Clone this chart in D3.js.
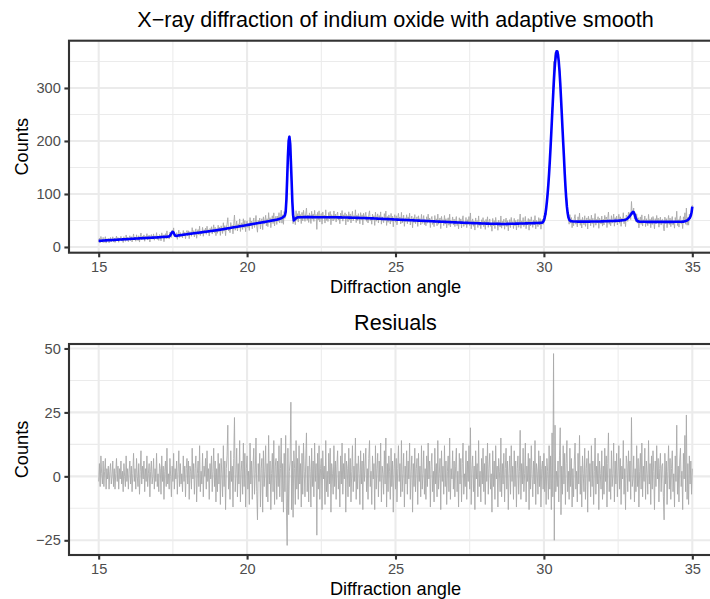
<!DOCTYPE html>
<html><head><meta charset="utf-8">
<script src="https://cdn.jsdelivr.net/npm/d3@7"></script>
<style>
body{margin:0;background:#fff}
svg{display:block}
text{font-family:"Liberation Sans",Arial,Helvetica,sans-serif}
</style>
</head><body>
<svg id="chart" width="710" height="599"></svg>
<script>
// ---------- data ----------
const angleStart = 15, angleStep = 0.025;   // diffraction angle grid 15 .. 35

// adaptive smooth (fitted counts), one row per degree
const fitted = [
/*15*/ 11.5,11.6,11.7,11.8,11.9,12.0,12.1,12.2,12.3,12.4, 12.4,12.5,12.6,12.7,12.8,12.9,13.0,13.0,13.1,13.2, 13.3,13.4,13.5,13.5,13.6,13.7,13.8,13.9,14.0,14.0, 14.1,14.2,14.3,14.4,14.5,14.5,14.6,14.7,14.8,14.9,
/*16*/ 15.0,15.1,15.2,15.3,15.4,15.5,15.5,15.6,15.7,15.8, 15.9,16.0,16.0,16.1,16.2,16.3,16.4,16.4,16.5,16.6, 16.7,16.8,16.8,16.9,17.0,17.1,17.1,17.2,17.3,17.4, 17.4,17.5,17.6,17.7,17.7,17.8,17.9,18.0,18.0,18.1,
/*17*/ 18.2,18.3,18.4,18.5,18.6,18.7,18.8,18.9,19.0,19.1, 19.2,19.3,19.4,19.5,19.7,20.0,21.0,23.0,26.0,28.0, 28.5,27.0,24.0,21.5,20.8,21.0,21.3,21.6,21.9,22.1, 22.3,22.5,22.7,22.9,23.1,23.3,23.5,23.7,23.9,24.1,
/*18*/ 24.3,24.5,24.7,24.9,25.0,25.2,25.4,25.6,25.8,25.9, 26.1,26.3,26.5,26.7,26.9,27.0,27.2,27.4,27.6,27.8, 28.0,28.2,28.3,28.5,28.7,28.9,29.1,29.3,29.5,29.7, 29.8,30.0,30.2,30.4,30.6,30.8,31.0,31.2,31.4,31.6,
/*19*/ 31.8,32.0,32.3,32.5,32.8,33.0,33.2,33.5,33.7,34.0, 34.2,34.4,34.7,34.9,35.2,35.4,35.6,35.9,36.1,36.4, 36.6,36.8,37.1,37.3,37.6,37.8,38.0,38.3,38.5,38.8, 39.0,39.2,39.5,39.7,40.0,40.2,40.4,40.7,40.9,41.2,
/*20*/ 41.4,41.7,41.9,42.2,42.4,42.7,42.9,43.2,43.4,43.7, 43.9,44.2,44.4,44.7,44.9,45.2,45.4,45.7,45.9,46.2, 46.4,46.7,46.9,47.2,47.4,47.7,47.9,48.2,48.4,48.7, 48.9,49.2,49.4,49.7,49.9,50.2,50.4,50.7,50.9,51.2,
/*21*/ 51.5,51.9,52.3,52.7,53.2,53.7,54.3,55.0,55.8,56.8, 58,60,66,90,128,170,200,208,196,162, 125,85,60,50,51.5,53,54.5,55.3,55.8,56, 56,56.1,56.1,56.2,56.2,56.2,56.3,56.3,56.3,56.3,
/*22*/ 56.3,56.3,56.3,56.3,56.3,56.3,56.3,56.3,56.3,56.3, 56.2,56.2,56.2,56.2,56.2,56.2,56.2,56.2,56.2,56.2, 56.1,56.1,56.1,56.1,56.1,56.1,56.1,56.1,56.1,56.1, 56.0,56.0,56.0,56.0,56.0,56.0,56.0,56.0,56.0,56.0,
/*23*/ 56.0,56.0,55.9,55.9,55.9,55.8,55.8,55.8,55.7,55.7, 55.7,55.6,55.6,55.6,55.5,55.5,55.5,55.4,55.4,55.4, 55.3,55.3,55.2,55.2,55.2,55.1,55.1,55.0,55.0,55.0, 54.9,54.9,54.8,54.8,54.8,54.7,54.7,54.6,54.6,54.5,
/*24*/ 54.4,54.4,54.3,54.3,54.2,54.2,54.1,54.0,54.0,53.9, 53.9,53.8,53.7,53.7,53.6,53.5,53.5,53.4,53.3,53.3, 53.2,53.1,53.1,53.0,52.9,52.9,52.8,52.7,52.7,52.6, 52.5,52.5,52.4,52.3,52.3,52.2,52.1,52.1,52.0,51.9,
/*25*/ 51.8,51.8,51.7,51.6,51.6,51.5,51.4,51.4,51.3,51.2, 51.2,51.1,51.0,51.0,50.9,50.8,50.8,50.7,50.6,50.6, 50.5,50.4,50.4,50.3,50.2,50.2,50.1,50.0,50.0,49.9, 49.8,49.8,49.7,49.6,49.6,49.5,49.4,49.4,49.3,49.2,
/*26*/ 49.1,49.1,49.0,48.9,48.9,48.8,48.7,48.7,48.6,48.5, 48.5,48.4,48.3,48.3,48.2,48.1,48.1,48.0,47.9,47.9, 47.8,47.7,47.7,47.6,47.5,47.5,47.4,47.3,47.3,47.2, 47.1,47.1,47.0,46.9,46.9,46.8,46.7,46.7,46.6,46.5,
/*27*/ 46.5,46.4,46.4,46.3,46.2,46.2,46.1,46.1,46.0,45.9, 45.9,45.8,45.8,45.7,45.6,45.6,45.5,45.5,45.4,45.3, 45.3,45.2,45.2,45.1,45.0,45.0,44.9,44.9,44.8,44.8, 44.7,44.7,44.6,44.6,44.5,44.5,44.4,44.4,44.3,44.3,
/*28*/ 44.2,44.2,44.1,44.1,44.0,44.0,44.0,43.9,43.9,43.9, 43.8,43.8,43.8,43.7,43.7,43.7,43.7,43.6,43.6,43.6, 43.6,43.6,43.5,43.5,43.5,43.5,43.5,43.5,43.5,43.5, 43.6,43.6,43.6,43.6,43.7,43.7,43.7,43.8,43.8,43.8,
/*29*/ 43.9,43.9,44.0,44.0,44.0,44.1,44.1,44.2,44.2,44.2, 44.3,44.3,44.4,44.4,44.4,44.5,44.5,44.6,44.6,44.7, 44.7,44.8,44.8,44.9,44.9,45.0,45.0,45.1,45.1,45.2, 45.2,45.3,45.3,45.4,45.4,45.5,45.6,45.8,46.3,47.5,
/*30*/ 50,55,62,72,85,100,118,139,163,189, 217,246,274,302,327,347,361,369,369,363, 350,332,309,282,254,225,197,170,140,115, 93,76,64,56,52,50,49,48.6,48.4,48.2,
/*31*/ 48.1,48.0,48.0,48.0,48.0,47.9,47.9,47.9,47.9,47.9, 47.9,47.9,47.9,47.9,47.9,47.9,47.9,47.9,47.9,47.9, 47.9,47.9,47.9,48.0,48.0,48.0,48.0,48.0,48.0,48.0, 48.1,48.1,48.1,48.1,48.2,48.2,48.2,48.3,48.3,48.4,
/*32*/ 48.4,48.5,48.5,48.6,48.6,48.7,48.7,48.8,48.8,48.9, 48.9,49.0,49.0,49.1,49.1,49.2,49.3,49.3,49.4,49.5, 49.6,49.7,49.8,49.9,50.0,50.2,50.4,50.6,50.8,51.1, 51.5,52.3,53.2,54.3,55.6,57.1,58.8,60.7,62.8,64.9,
/*33*/ 66.2,65.5,62.5,58.0,53.5,50.5,49.0,48.3,48.0,47.8, 47.7,47.6,47.6,47.5,47.5,47.5,47.5,47.5,47.4,47.4, 47.4,47.4,47.4,47.4,47.4,47.4,47.4,47.4,47.4,47.4, 47.4,47.4,47.4,47.4,47.4,47.4,47.4,47.4,47.4,47.4,
/*34*/ 47.4,47.4,47.4,47.4,47.4,47.4,47.4,47.4,47.4,47.4, 47.4,47.4,47.4,47.4,47.4,47.4,47.5,47.5,47.5,47.5, 47.5,47.5,47.5,47.5,47.6,47.6,47.7,47.8,47.9,48.1, 48.5,48.9,49.4,50.1,51.0,52.2,53.8,56.0,59.5,65.5,
/*35*/ 76
];

// residuals (observed counts minus smooth), one row per degree
const residuals = [
/*15*/ -2,5,-4,8,1,-3,6,-4,2,7, -5,3,-1,4,-5,2,5,-3,0,6, -4,3,-5,1,7,-2,4,-5,3,-1, 6,-3,2,-6,5,0,-4,8,-2,3,
/*16*/ -5,2,6,-3,4,-6,1,9,-2,3, -5,7,0,-4,5,-7,2,10,-3,4, -1,6,-6,3,-2,8,-4,1,5,-8, 2,6,-3,0,7,-5,3,-2,9,-4,
/*17*/ 1,-6,5,3,-7,8,-2,4,-9,2, 6,-4,11,-3,1,-5,7,0,-8,4, -2,9,-5,3,-1,6,-7,2,10,-4, 5,-3,1,-6,8,-2,4,-8,3,7,
/*18*/ -3,6,-9,4,2,-5,11,-1,5,-7, 3,8,-10,1,6,-4,12,-6,2,-3, 9,-8,4,0,7,-5,10,-2,3,-9, 5,-1,8,-6,2,11,-4,6,-10,3,
/*19*/ -6,9,-3,5,-11,7,1,-8,12,-4, 6,-13,3,8,20,-5,2,-9,10,-2, 4,-12,7,23,-6,1,11,-8,5,-3, 14,-10,2,6,-7,13,-4,9,-12,3,
/*20*/ 8,-5,2,-11,13,-3,6,-9,4,11, -7,1,15,-6,-17,5,-2,9,-12,3, 7,-14,10,-4,2,12,-8,5,-10,16, -3,6,-13,1,9,-6,14,-11,4,7,
/*21*/ -9,6,-4,12,-8,3,15,-10,5,-14, 9,-6,16,-12,-27,11,-15,2,6,29, -13,6,-16,10,3,-11,14,-5,7,-9, 12,-3,5,-12,9,-7,13,2,-8,6,
/*22*/ 17,-6,4,-10,8,2,-12,11,-4,6, -8,13,-2,5,-23,9,-5,12,-9,3, 7,-13,10,-1,4,-11,14,-6,2,-8, 9,-3,11,-14,5,1,-7,12,-4,6,
/*23*/ -9,4,10,-5,2,-12,8,-3,13,-7, 5,-1,9,-14,6,3,-8,11,-4,7, -10,2,12,-6,4,-2,15,-9,5,-5, 8,1,-11,10,-3,6,-13,9,-2,4,
/*24*/ 11,-6,3,-9,7,14,-4,2,-11,8, -1,5,-13,12,-5,3,9,-8,6,-2, 13,-10,4,1,-7,10,-3,15,-12,5, -6,8,2,-9,11,-4,6,-14,3,9,
/*25*/ -5,7,-10,3,12,-2,5,-8,14,-6, 1,9,-12,4,-3,10,-7,6,-1,13, -9,2,8,-14,5,-4,11,-6,3,7, -11,9,-2,4,-8,12,-5,1,10,-7,
/*26*/ 3,-9,8,-4,13,-1,6,-12,4,9, -6,2,-10,11,-3,5,-8,14,-5,1, 7,-13,10,-2,4,-7,12,-4,6,-11, 2,8,-6,15,-9,3,-1,10,-5,6,
/*27*/ -8,4,11,-6,2,-12,9,-3,7,-10, 5,13,-7,1,-4,10,-9,6,-2,12, -5,19,-11,3,8,-6,4,-13,10,-1, 5,-8,14,-4,2,-10,7,-3,11,-6,
/*28*/ 5,-11,8,-2,13,-7,3,9,-5,1, -14,10,-4,6,-9,12,-1,4,-12,7, 2,-6,15,-8,5,-3,9,-10,3,11, -5,6,-13,1,8,-7,12,-2,4,-9,
/*29*/ 10,-4,6,-12,3,8,-7,2,18,-9, 5,-3,11,-6,1,13,-10,4,-2,9, -13,7,-5,12,0,-8,6,-3,14,-11, 5,2,-7,10,-4,8,-12,3,6,-5,
/*30*/ 9,-6,4,-11,7,2,-9,12,-5,8, -13,17,-8,48,-25,20,-6,2,-4,6, -10,8,19,-15,4,-7,12,-3,9,-11, 5,14,-6,2,-9,11,-4,7,-12,3,
/*31*/ -8,6,13,-5,2,-10,9,-3,16,-7, 4,-12,8,1,-6,11,-9,3,7,-14, 10,-2,5,-8,12,-4,6,-11,2,15, -7,4,-3,9,-13,6,1,-5,10,-9,
/*32*/ 4,-7,11,-2,8,-12,5,17,-6,3, -9,10,-4,1,13,-10,6,-3,9,-8, 2,12,-5,7,-11,4,-1,14,-7,3, -13,8,5,-6,10,-2,6,-9,23,-4,
/*33*/ -1,8,-10,3,-6,12,-4,7,-12,2, 9,-5,13,-8,4,-2,11,-9,6,1, -7,14,-3,5,-11,8,-5,10,2,-13, 6,-4,12,-1,7,-10,3,9,-6,4,
/*34*/ 5,-8,-17,9,-3,6,-11,2,12,-5, 7,-9,3,10,-6,1,-12,8,-2,20, -7,4,-10,6,11,-4,2,-13,9,-1, 16,-6,24,-9,5,-11,8,-3,6,-7,
/*35*/ 3
];

const angleTicks = [15, 20, 25, 30, 35];
const countTicks = [0, 100, 200, 300];
const residTicks = [-25, 0, 25, 50];
const topTitle = "X\u2212ray diffraction of indium oxide with adaptive smooth";
const bottomTitle = "Resiuals";
const xTitle = "Diffraction angle";
const yTitle = "Counts";

// ---------- derived ----------
const angles = fitted.map((_, i) => +(angleStart + i * angleStep).toFixed(3));
const counts = fitted.map((f, i) => f + residuals[i]);

function expand(ext) { const r = ext[1] - ext[0]; return [ext[0] - 0.05 * r, ext[1] + 0.05 * r]; }

const svg = d3.select("#chart");
const panelL = 69, panelR = 722;
const x = d3.scaleLinear().domain(expand(d3.extent(angles))).range([panelL, panelR]);

const topPanel = {top: 40.7, bottom: 252.7};
const botPanel = {top: 344, bottom: 555};

const yTop = d3.scaleLinear()
  .domain(expand(d3.extent(counts.concat(fitted))))
  .range([topPanel.bottom, topPanel.top]);
const yBot = d3.scaleLinear()
  .domain(expand(d3.extent(residuals)))
  .range([botPanel.bottom, botPanel.top]);

function minorOf(ticks, domain) {
  const step = ticks[1] - ticks[0];
  const out = [];
  for (let i = -1; i < ticks.length; i++) {
    const v = ticks[0] + (i + 0.5) * step;
    if (v >= domain[0] && v <= domain[1]) out.push(v);
  }
  return out;
}

function drawPanel(p, y, yTicks, id, title, series) {
  const g = svg.append("g");
  g.append("rect").attr("x", panelL).attr("y", p.top)
    .attr("width", panelR - panelL).attr("height", p.bottom - p.top).attr("fill", "#fff");
  minorOf(angleTicks, x.domain()).forEach(v => {
    g.append("line").attr("x1", x(v)).attr("x2", x(v)).attr("y1", p.top).attr("y2", p.bottom)
      .attr("stroke", "#EBEBEB").attr("stroke-width", 1.05);
  });
  minorOf(yTicks, y.domain()).forEach(v => {
    g.append("line").attr("x1", panelL).attr("x2", panelR).attr("y1", y(v)).attr("y2", y(v))
      .attr("stroke", "#EBEBEB").attr("stroke-width", 1.05);
  });
  angleTicks.forEach(v => {
    g.append("line").attr("x1", x(v)).attr("x2", x(v)).attr("y1", p.top).attr("y2", p.bottom)
      .attr("stroke", "#EBEBEB").attr("stroke-width", 2.1);
  });
  yTicks.forEach(v => {
    g.append("line").attr("x1", panelL).attr("x2", panelR).attr("y1", y(v)).attr("y2", y(v))
      .attr("stroke", "#EBEBEB").attr("stroke-width", 2.1);
  });
  svg.append("clipPath").attr("id", id).append("rect")
    .attr("x", panelL).attr("y", p.top).attr("width", panelR - panelL).attr("height", p.bottom - p.top);
  const dg = g.append("g").attr("clip-path", `url(#${id})`);
  series.forEach(s => {
    dg.append("path").datum(s.values)
      .attr("fill", "none").attr("stroke", s.color).attr("stroke-width", s.width)
      .attr("stroke-linejoin", "round")
      .attr("d", d3.line().x((d, i) => x(angles[i])).y(d => y(d)));
  });
  g.append("rect").attr("x", panelL).attr("y", p.top)
    .attr("width", panelR - panelL).attr("height", p.bottom - p.top)
    .attr("fill", "none").attr("stroke", "#333333").attr("stroke-width", 2.1);
  const ax = g.append("g").attr("transform", `translate(0,${p.bottom})`)
    .call(d3.axisBottom(x).tickValues(angleTicks).tickSize(4.6).tickPadding(4.2).tickFormat(d3.format("d")));
  const ay = g.append("g").attr("transform", `translate(${panelL},0)`)
    .call(d3.axisLeft(y).tickValues(yTicks).tickSize(4.6).tickPadding(3.6).tickFormat(d3.format("d")));
  [ax, ay].forEach(a => {
    a.select(".domain").remove();
    a.selectAll(".tick line").attr("stroke", "#333333").attr("stroke-width", 2.1);
    a.selectAll(".tick text").attr("fill", "#4D4D4D").style("font-size", "14.6px")
      .style("font-family", '"Liberation Sans",Arial,Helvetica,sans-serif');
  });
  const cx = (panelL + panelR) / 2;
  svg.append("text").attr("x", cx).attr("y", p.top - 14.2).attr("text-anchor", "middle")
    .attr("fill", "#000").style("font-size", "21.6px").text(title);
  svg.append("text").attr("x", cx).attr("y", p.bottom + 40).attr("text-anchor", "middle")
    .attr("fill", "#000").style("font-size", "18.2px").text(xTitle);
  svg.append("text").attr("transform", `translate(27.5,${(p.top + p.bottom) / 2}) rotate(-90)`)
    .attr("text-anchor", "middle").attr("fill", "#000").style("font-size", "18.2px").text(yTitle);
}

drawPanel(topPanel, yTop, countTicks, "clipTop", topTitle, [
  {values: counts, color: "#A9A9A9", width: 0.9},
  {values: fitted, color: "#0000FF", width: 2.6}
]);
drawPanel(botPanel, yBot, residTicks, "clipBot", bottomTitle, [
  {values: residuals, color: "#A9A9A9", width: 0.9}
]);
</script>
</body></html>
